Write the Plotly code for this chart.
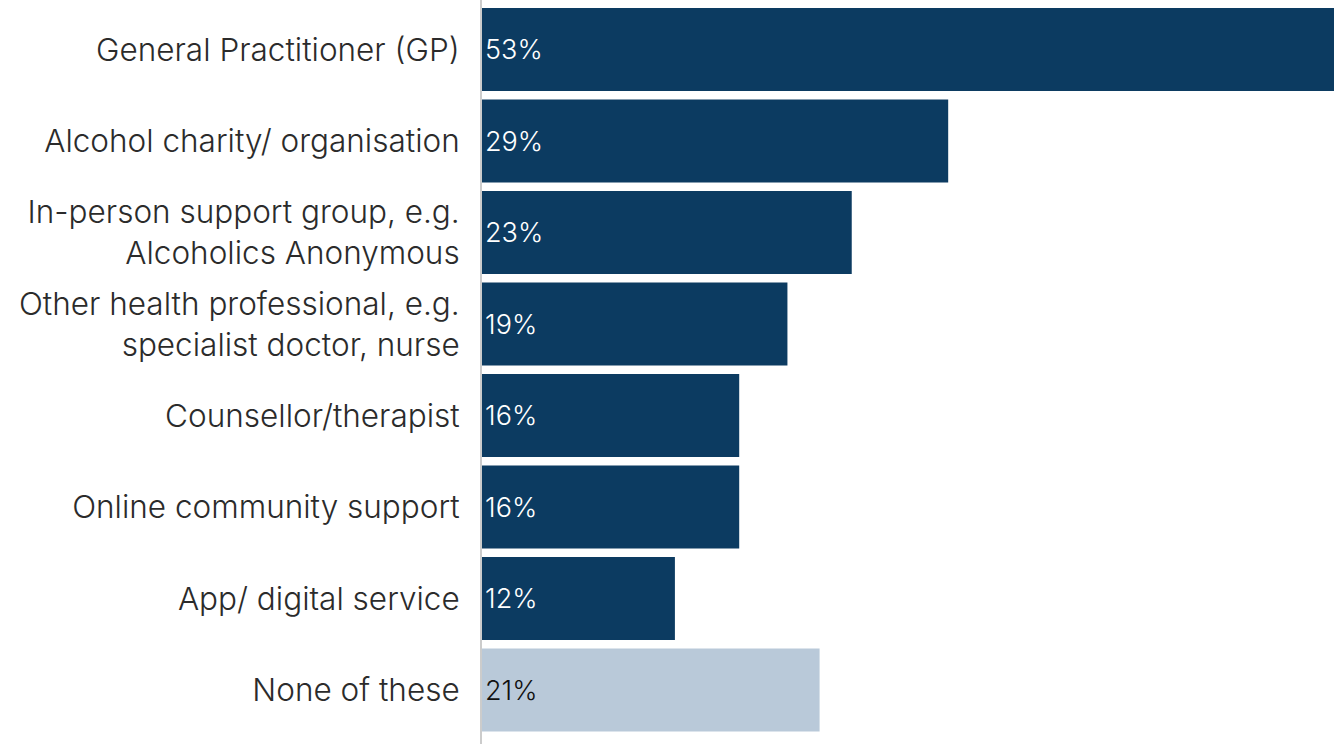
import plotly.graph_objects as go

# Sources of support, top to bottom
categories = [
    "General Practitioner (GP)",
    "Alcohol charity/ organisation",
    "In-person support group, e.g.<br>Alcoholics Anonymous",
    "Other health professional, e.g.<br>specialist doctor, nurse",
    "Counsellor/therapist",
    "Online community support",
    "App/ digital service",
    "None of these",
]
values = [53, 29, 23, 19, 16, 16, 12, 21]
labels = ["53%", "29%", "23%", "19%", "16%", "16%", "12%", "21%"]

DARK = "#0c3b61"
LIGHT = "#b9c9d9"
bar_colors = [DARK] * 7 + [LIGHT]
text_colors = ["#ffffff"] * 7 + ["#111111"]

FONT = "Inter, 'Open Sans', sans-serif"

fig = go.Figure(
    go.Bar(
        x=values,
        y=list(range(len(categories))),
        orientation="h",
        marker=dict(color=bar_colors, line=dict(width=0)),
        text=labels,
        textposition="inside",
        insidetextanchor="start",
        textangle=0,
        insidetextfont=dict(family=FONT, size=27, color=text_colors, weight=300),
        hoverinfo="skip",
    )
)

fig.update_layout(
    width=1334,
    height=744,
    margin=dict(l=482, r=0, t=0, b=0),
    paper_bgcolor="white",
    plot_bgcolor="white",
    bargap=0.093,
    showlegend=False,
    uniformtext=dict(minsize=27, mode="show"),
    font=dict(family=FONT, color="#2b2b2b"),
)

fig.update_xaxes(
    range=[0, 53],
    visible=False,
    showgrid=False,
    zeroline=False,
)

fig.update_yaxes(
    range=[7.59, -0.541],
    tickmode="array",
    tickvals=list(range(len(categories))),
    ticktext=categories,
    tickfont=dict(family=FONT, size=31.5, color="#2b2b2b", weight=300),
    ticks="",
    ticklabelstandoff=14,
    showgrid=False,
    zeroline=False,
    showline=True,
    linecolor="#cccccc",
    linewidth=2,
)

fig.write_html("out.html")
